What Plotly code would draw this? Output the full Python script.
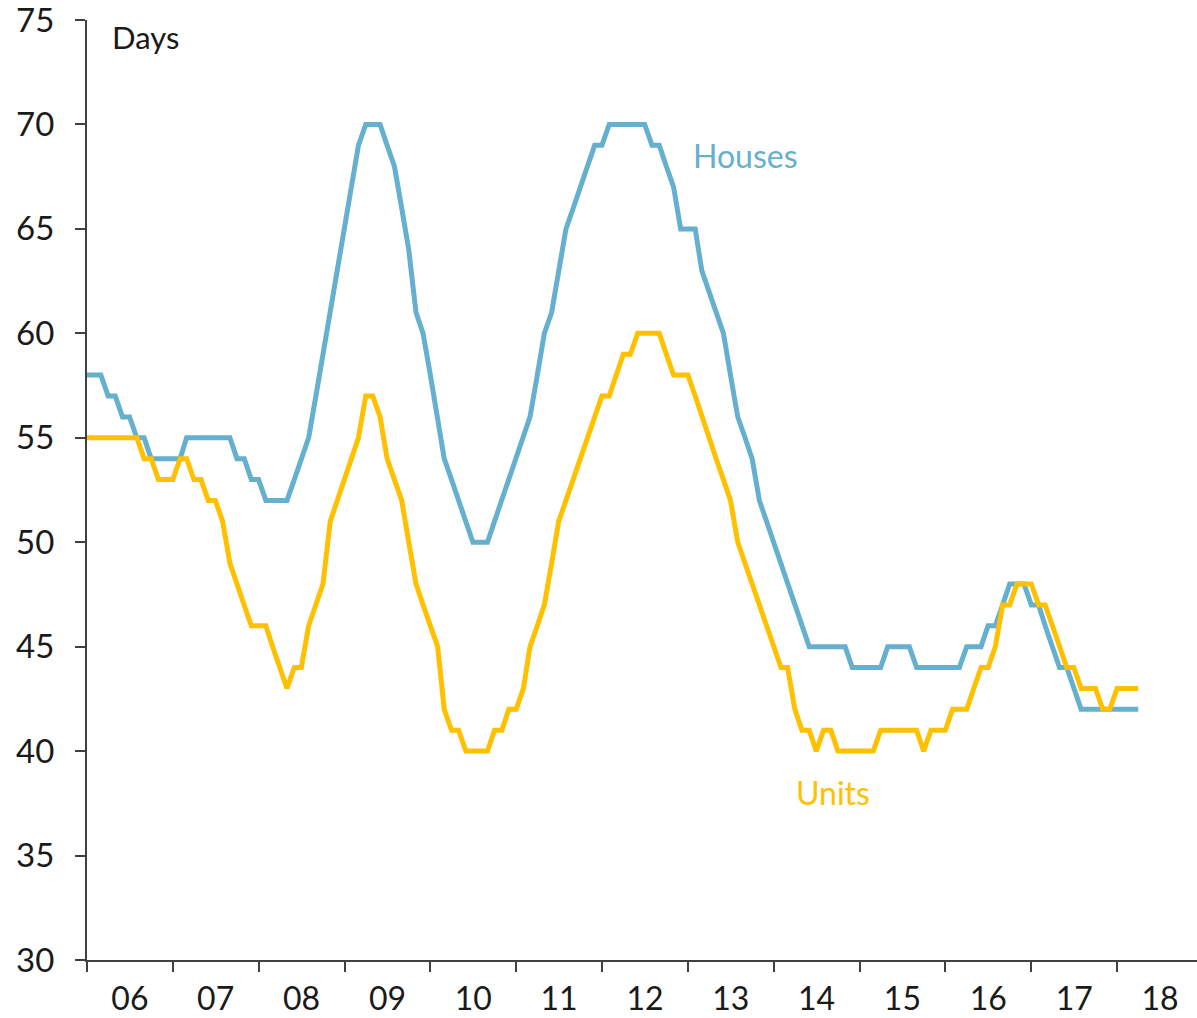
import plotly.graph_objects as go
import pandas as pd

# Monthly observations, Jan 2006 .. Apr 2018
start_month = "2006-01-01"
n_months = 148
months = pd.date_range(start_month, periods=n_months, freq="MS")

houses = [
    58, 58, 58, 57, 57, 56, 56, 55, 55, 54,
    54, 54, 54, 54, 55, 55, 55, 55, 55, 55,
    55, 54, 54, 53, 53, 52, 52, 52, 52, 53,
    54, 55, 57, 59, 61, 63, 65, 67, 69, 70,
    70, 70, 69, 68, 66, 64, 61, 60, 58, 56,
    54, 53, 52, 51, 50, 50, 50, 51, 52, 53,
    54, 55, 56, 58, 60, 61, 63, 65, 66, 67,
    68, 69, 69, 70, 70, 70, 70, 70, 70, 69,
    69, 68, 67, 65, 65, 65, 63, 62, 61, 60,
    58, 56, 55, 54, 52, 51, 50, 49, 48, 47,
    46, 45, 45, 45, 45, 45, 45, 44, 44, 44,
    44, 44, 45, 45, 45, 45, 44, 44, 44, 44,
    44, 44, 44, 45, 45, 45, 46, 46, 47, 48,
    48, 48, 47, 47, 46, 45, 44, 44, 43, 42,
    42, 42, 42, 42, 42, 42, 42, 42,
]

units = [
    55, 55, 55, 55, 55, 55, 55, 55, 54, 54,
    53, 53, 53, 54, 54, 53, 53, 52, 52, 51,
    49, 48, 47, 46, 46, 46, 45, 44, 43, 44,
    44, 46, 47, 48, 51, 52, 53, 54, 55, 57,
    57, 56, 54, 53, 52, 50, 48, 47, 46, 45,
    42, 41, 41, 40, 40, 40, 40, 41, 41, 42,
    42, 43, 45, 46, 47, 49, 51, 52, 53, 54,
    55, 56, 57, 57, 58, 59, 59, 60, 60, 60,
    60, 59, 58, 58, 58, 57, 56, 55, 54, 53,
    52, 50, 49, 48, 47, 46, 45, 44, 44, 42,
    41, 41, 40, 41, 41, 40, 40, 40, 40, 40,
    40, 41, 41, 41, 41, 41, 41, 40, 41, 41,
    41, 42, 42, 42, 43, 44, 44, 45, 47, 47,
    48, 48, 48, 47, 47, 46, 45, 44, 44, 43,
    43, 43, 42, 42, 43, 43, 43, 43,
]

y_range = [29.9999, 75.0001]
y_dtick = 5
x_range = ["2006-01-01", "2018-12-07"]

BLUE = "#64B0CE"
GOLD = "#FFC000"
AXIS = "#404040"
TEXT = "#1a1a1a"
FONT = "Lato, 'Open Sans', sans-serif"

fig = go.Figure()
fig.add_trace(go.Scatter(x=months, y=houses, mode="lines", name="Houses",
                         line=dict(color=BLUE, width=5)))
fig.add_trace(go.Scatter(x=months, y=units, mode="lines", name="Units",
                         line=dict(color=GOLD, width=5)))

fig.add_annotation(x="2013-01-14", y=68.5, xref="x", yref="y", text="Houses",
                   showarrow=False, xanchor="left", yanchor="middle",
                   font=dict(family=FONT, size=32, color=BLUE))
fig.add_annotation(x="2014-03-28", y=38.0, xref="x", yref="y", text="Units",
                   showarrow=False, xanchor="left", yanchor="middle",
                   font=dict(family=FONT, size=32, color=GOLD))
fig.add_annotation(x="2006-04-08", y=74.2, xref="x", yref="y", text="Days",
                   showarrow=False, xanchor="left", yanchor="middle",
                   font=dict(family=FONT, size=31, color=TEXT))

fig.update_layout(
    width=1197, height=1018,
    margin=dict(l=87, r=0, t=20, b=58),
    paper_bgcolor="white", plot_bgcolor="white",
    showlegend=False,
    font=dict(family=FONT, color=TEXT),
)
fig.update_xaxes(
    type="date", range=x_range, automargin=False,
    tickmode="linear", tick0="2006-01-01", dtick="M12",
    tickformat="%y", ticklabelmode="period",
    ticks="outside", ticklen=10, tickwidth=2, tickcolor=AXIS,
    showline=True, linecolor=AXIS, linewidth=2,
    showgrid=False, zeroline=False,
    tickfont=dict(family=FONT, size=32, color=TEXT),
    ticklabelstandoff=0, ticklabeloverflow="allow",
)
fig.update_yaxes(
    range=y_range, dtick=y_dtick, tick0=30, automargin=False,
    ticks="outside", ticklen=10, tickwidth=2, tickcolor=AXIS,
    showline=True, linecolor=AXIS, linewidth=2,
    showgrid=False, zeroline=False,
    tickfont=dict(family=FONT, size=33, color=TEXT),
    ticklabelstandoff=14, ticklabeloverflow="allow",
)

# Remove the default page margin so the figure fills the window exactly.
fig.write_html(
    "out.html",
    config={"displayModeBar": False},
    post_script="document.body.style.margin='0';document.body.style.overflow='hidden';",
)
